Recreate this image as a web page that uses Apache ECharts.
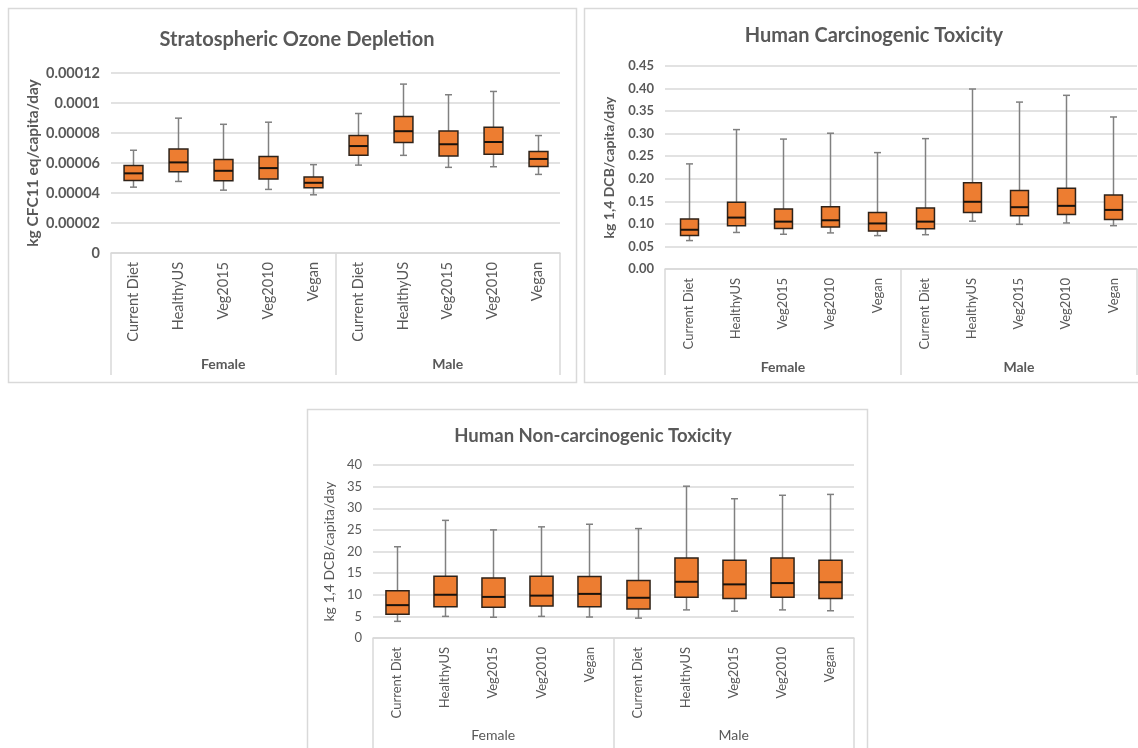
<!DOCTYPE html>
<html>
<head>
<meta charset="utf-8">
<script src="https://cdn.jsdelivr.net/npm/echarts@6/dist/echarts.min.js"></script>
<style>
html,body{margin:0;padding:0;background:#fff;}
#c{width:1138px;height:748px;}
</style>
</head>
<body>
<div id="c"></div>
<script>
// ---------- DATA ----------
var categories = ['Current Diet','HealthyUS','Veg2015','Veg2010','Vegan','Current Diet','HealthyUS','Veg2015','Veg2010','Vegan'];
var groups = ['Female','Male'];

// Stratospheric Ozone Depletion (kg CFC11 eq/capita/day)
var ozoneMin = [4.39e-5, 4.77e-5, 4.19e-5, 4.24e-5, 3.88e-5, 5.86e-5, 6.51e-5, 5.71e-5, 5.75e-5, 5.24e-5];
var ozoneQ1  = [4.84e-5, 5.42e-5, 4.82e-5, 4.93e-5, 4.35e-5, 6.51e-5, 7.36e-5, 6.47e-5, 6.58e-5, 5.77e-5];
var ozoneMed = [5.31e-5, 6.04e-5, 5.48e-5, 5.66e-5, 4.68e-5, 7.13e-5, 8.12e-5, 7.25e-5, 7.40e-5, 6.27e-5];
var ozoneQ3  = [5.84e-5, 6.93e-5, 6.24e-5, 6.44e-5, 5.06e-5, 7.83e-5, 9.10e-5, 8.14e-5, 8.38e-5, 6.76e-5];
var ozoneMax = [6.85e-5, 8.99e-5, 8.58e-5, 8.72e-5, 5.89e-5, 9.30e-5, 1.126e-4, 1.055e-4, 1.077e-4, 7.83e-5];
var ozoneTicks = ['0','0.00002','0.00004','0.00006','0.00008','0.0001','0.00012'];

// Human Carcinogenic Toxicity (kg 1,4 DCB/capita/day)
var carcMin = [0.063, 0.081, 0.077, 0.080, 0.074, 0.076, 0.106, 0.099, 0.102, 0.096];
var carcQ1  = [0.074, 0.096, 0.090, 0.093, 0.084, 0.089, 0.125, 0.118, 0.121, 0.110];
var carcMed = [0.087, 0.114, 0.105, 0.108, 0.101, 0.105, 0.149, 0.137, 0.140, 0.131];
var carcQ3  = [0.111, 0.148, 0.133, 0.138, 0.125, 0.135, 0.191, 0.174, 0.179, 0.164];
var carcMax = [0.233, 0.309, 0.288, 0.301, 0.258, 0.289, 0.399, 0.370, 0.385, 0.337];
var carcTicks = ['0.00','0.05','0.10','0.15','0.20','0.25','0.30','0.35','0.40','0.45'];

// Human Non-carcinogenic Toxicity (kg 1,4 DCB/capita/day)
var nonMin = [3.85, 5.0, 4.8, 5.0, 4.85, 4.6, 6.5, 6.2, 6.5, 6.3];
var nonQ1  = [5.5, 7.2, 7.1, 7.4, 7.2, 6.7, 9.4, 9.15, 9.4, 9.15];
var nonMed = [7.6, 10.0, 9.5, 9.8, 10.2, 9.3, 13.0, 12.4, 12.7, 12.9];
var nonQ3  = [10.9, 14.3, 13.9, 14.3, 14.2, 13.3, 18.5, 18.0, 18.5, 18.0];
var nonMax = [21.1, 27.2, 25.0, 25.7, 26.3, 25.3, 35.1, 32.2, 33.0, 33.2];
var nonTicks = ['0','5','10','15','20','25','30','35','40'];

// ---------- RENDER ----------
var FONT = 'Lato';
var GRAY = '#595959';
var LIGHT = '#d9d9d9';

function boxData(mn, q1, md, q3, mx) {
  return categories.map(function (c, i) { return [i, mn[i], q1[i], md[i], q3[i], mx[i]]; });
}

function makeRender(boxRatio, capW) {
  return function (params, api) {
    var x = api.value(0);
    var pMin = api.coord([x, api.value(1)]);
    var pQ1 = api.coord([x, api.value(2)]);
    var pMed = api.coord([x, api.value(3)]);
    var pQ3 = api.coord([x, api.value(4)]);
    var pMax = api.coord([x, api.value(5)]);
    var bw = api.size([1, 0])[0] * boxRatio;
    var cx = Math.round(pMed[0]) + 0.5;
    var wStyle = { stroke: '#808080', lineWidth: 1.5 };
    return {
      type: 'group',
      children: [
        { type: 'line', shape: { x1: cx, y1: pMax[1], x2: cx, y2: pQ3[1] }, style: wStyle },
        { type: 'line', shape: { x1: cx, y1: pQ1[1], x2: cx, y2: pMin[1] }, style: wStyle },
        { type: 'line', shape: { x1: cx - capW / 2, y1: pMax[1], x2: cx + capW / 2, y2: pMax[1] }, style: wStyle },
        { type: 'line', shape: { x1: cx - capW / 2, y1: pMin[1], x2: cx + capW / 2, y2: pMin[1] }, style: wStyle },
        { type: 'rect', shape: { x: cx - bw / 2, y: pQ3[1], width: bw, height: pQ1[1] - pQ3[1] },
          style: { fill: '#ED7D31', stroke: '#2e2219', lineWidth: 1.5 } },
        { type: 'line', shape: { x1: cx - bw / 2, y1: pMed[1], x2: cx + bw / 2, y2: pMed[1] },
          style: { stroke: '#1a120c', lineWidth: 2 } }
      ]
    };
  };
}

function yAxisFor(gridIndex, max, interval, ticks, name, nameGap, bold, fs, nfs) {
  return {
    type: 'value', gridIndex: gridIndex, min: 0, max: max, interval: interval,
    axisLine: { show: false }, axisTick: { show: false },
    splitLine: { lineStyle: { color: LIGHT, width: 1.5 } },
    axisLabel: {
      margin: 11, color: GRAY, fontFamily: FONT, fontSize: fs, fontWeight: bold ? 'bold' : 'normal',
      formatter: function (v) { return ticks[Math.round(v / interval)]; }
    },
    name: name, nameLocation: 'middle', nameGap: nameGap, nameRotate: 90,
    nameTextStyle: { color: GRAY, fontFamily: FONT, fontSize: nfs, fontWeight: bold ? 'bold' : 'normal' }
  };
}

function catAxes(gridIndex, catFs, tickLen, groupMargin, groupBold) {
  return [
    {
      type: 'category', gridIndex: gridIndex, data: categories, position: 'bottom',
      axisLine: { lineStyle: { color: LIGHT, width: 1.5 } }, axisTick: { show: false },
      axisLabel: { interval: 0, rotate: 90, margin: 9, color: GRAY, fontFamily: FONT, fontSize: catFs }
    },
    {
      type: 'category', gridIndex: gridIndex, data: groups, position: 'bottom', offset: 0,
      axisLine: { show: false },
      axisTick: { show: true, interval: 0, length: tickLen, lineStyle: { color: LIGHT, width: 1.5 } },
      axisLabel: { interval: 0, margin: groupMargin, color: GRAY, fontFamily: FONT, fontSize: 14,
        fontWeight: groupBold ? 'bold' : 'normal' }
    }
  ];
}

var chart = echarts.init(document.getElementById('c'), null, { renderer: 'canvas' });

var option = {
  animation: false,
  backgroundColor: '#ffffff',
  textStyle: { fontFamily: FONT },
  graphic: [
    { type: 'rect', shape: { x: 8.5, y: 8.5, width: 568, height: 374 }, style: { fill: 'none', stroke: LIGHT, lineWidth: 1.5 }, z: -1 },
    { type: 'rect', shape: { x: 584.5, y: 8.5, width: 570, height: 374 }, style: { fill: 'none', stroke: LIGHT, lineWidth: 1.5 }, z: -1 },
    { type: 'rect', shape: { x: 307.5, y: 409.5, width: 560, height: 350 }, style: { fill: 'none', stroke: LIGHT, lineWidth: 1.5 }, z: -1 }
  ],
  title: [
    { text: 'Stratospheric Ozone Depletion', left: 292, top: 25, textAlign: 'center',
      textStyle: { fontFamily: FONT, fontSize: 20, fontWeight: 'bold', color: GRAY } },
    { text: 'Human Carcinogenic Toxicity', left: 869, top: 21, textAlign: 'center',
      textStyle: { fontFamily: FONT, fontSize: 20, fontWeight: 'bold', color: GRAY } },
    { text: 'Human Non-carcinogenic Toxicity', left: 588, top: 422, textAlign: 'center',
      textStyle: { fontFamily: FONT, fontSize: 18.5, fontWeight: 'bold', color: GRAY } }
  ],
  grid: [
    { left: 111, top: 73, width: 449, height: 180 },
    { left: 665, top: 66, width: 472, height: 203 },
    { left: 373, top: 465, width: 481, height: 173 }
  ],
  xAxis: [].concat(
    catAxes(0, 14.5, 122, 104, true),
    catAxes(1, 13, 106, 91, true),
    catAxes(2, 13, 115, 90, false)
  ),
  yAxis: [
    yAxisFor(0, 0.00012, 0.00002, ozoneTicks, 'kg CFC11 eq/capita/day', 70, true, 14.5, 15.5),
    yAxisFor(1, 0.45, 0.05, carcTicks, 'kg 1,4 DCB/capita/day', 49, true, 13, 14),
    yAxisFor(2, 40, 5, nonTicks, 'kg 1,4 DCB/capita/day', 37, false, 13, 14)
  ],
  series: [
    { type: 'custom', xAxisIndex: 0, yAxisIndex: 0, renderItem: makeRender(0.42, 7),
      encode: { x: 0, y: [1, 2, 3, 4, 5] }, data: boxData(ozoneMin, ozoneQ1, ozoneMed, ozoneQ3, ozoneMax) },
    { type: 'custom', xAxisIndex: 2, yAxisIndex: 1, renderItem: makeRender(0.38, 7),
      encode: { x: 0, y: [1, 2, 3, 4, 5] }, data: boxData(carcMin, carcQ1, carcMed, carcQ3, carcMax) },
    { type: 'custom', xAxisIndex: 4, yAxisIndex: 2, renderItem: makeRender(0.48, 7),
      encode: { x: 0, y: [1, 2, 3, 4, 5] }, data: boxData(nonMin, nonQ1, nonMed, nonQ3, nonMax) }
  ]
};
chart.setOption(option);
</script>
</body>
</html>
